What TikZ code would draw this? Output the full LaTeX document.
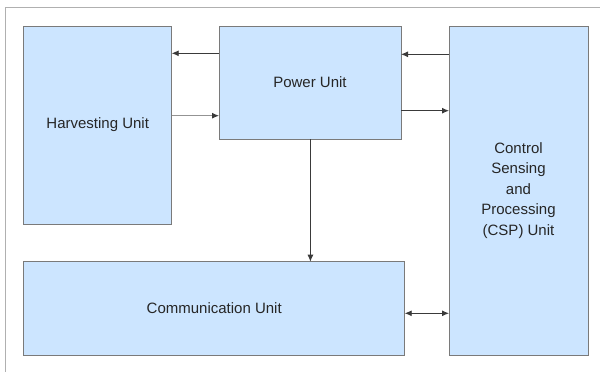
\documentclass[tikz,border=0pt]{standalone}
\usepackage{fontspec}
\setmainfont{Liberation Sans}
\usetikzlibrary{arrows.meta}
\definecolor{boxfill}{HTML}{CCE5FF}
\definecolor{boxline}{HTML}{7A7A7A}
\definecolor{arrline}{HTML}{3A3A3A}
\definecolor{frameline}{HTML}{B0B0B0}
\tikzset{
  unitbox/.style={draw=boxline, fill=boxfill, line width=0.9pt, inner sep=0pt, outer sep=0pt,
    anchor=north west, align=center, font=\fontsize{15}{20.5}\selectfont, text=black!85},
  arr/.style={draw=arrline, line width=0.9pt, -{Latex[length=7pt,width=6pt,color=arrline]}},
  dblarr/.style={draw=arrline, line width=0.9pt,
    {Latex[length=7pt,width=6pt]}-{Latex[length=7pt,width=6pt]}}
}
\begin{document}
\begin{tikzpicture}[x=1pt,y=-1pt]
  \useasboundingbox (0,0) rectangle (600,372);
  % outer frame
  \draw[frameline, line width=1pt] (5.7,372) -- (5.7,7.3) -- (600,7.3);
  % units
  \node[unitbox, minimum width=148pt, minimum height=198pt] (H) at (23.7,26) {Harvesting Unit};
  \node[unitbox, minimum width=182pt, minimum height=113pt] (P) at (219,26) {Power Unit};
  \node[unitbox, minimum width=139pt, minimum height=329pt] (C) at (449,26)
    {Control\\Sensing\\and\\Processing\\(CSP) Unit};
  \node[unitbox, minimum width=381pt, minimum height=93.6pt] (M) at (23.7,261.7) {Communication Unit};
  % connectors
  \draw[arr] (P.west |- 0,53.3) -- (H.east |- 0,53.3);
  \draw[arr, draw=arrline!55] (H.east |- 0,115.7) -- (P.west |- 0,115.7);
  \draw[arr] (C.west |- 0,54.3) -- (P.east |- 0,54.3);
  \draw[arr] (P.east |- 0,110.7) -- (C.west |- 0,110.7);
  \draw[arr] (P.south -| 310.4,0) -- (M.north -| 310.4,0);
  \draw[dblarr] (M.east |- 0,313.3) -- (C.west |- 0,313.3);
\end{tikzpicture}
\end{document}
